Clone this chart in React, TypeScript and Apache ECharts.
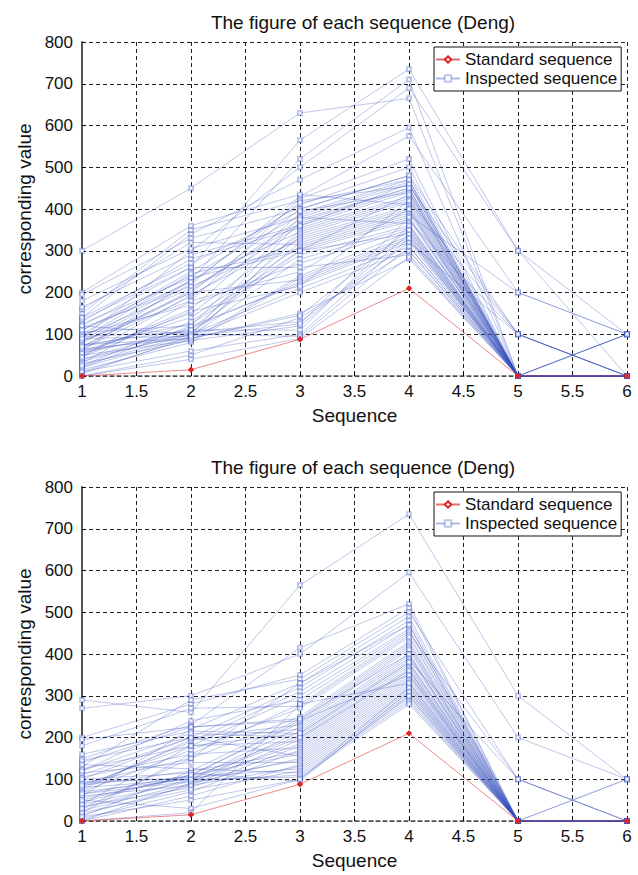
import React, { useEffect, useRef } from "react";
import * as echarts from "echarts";

const xValues = [1, 2, 3, 4, 5, 6];
const chartTitle = "The figure of each sequence (Deng)";
const xName = "Sequence";
const yName = "corresponding value";
const legendNames = ["Standard sequence", "Inspected sequence"];

const standardTop = [0, 15, 88, 210, 0, 0];
const standardBottom = [0, 15, 88, 210, 0, 0];

const inspectedTop = [
  [300, 450, 630, 665, 0, 0],
  [120, 260, 565, 735, 300, 0],
  [60, 230, 520, 710, 0, 0],
  [90, 300, 500, 690, 300, 100],
  [140, 340, 470, 595, 0, 0],
  [80, 220, 430, 575, 200, 100],
  [30, 180, 425, 520, 0, 0],
  [100, 250, 410, 500, 0, 0],
  [70, 200, 400, 480, 100, 0],
  [50, 160, 390, 470, 0, 0],
  [110, 240, 385, 465, 0, 100],
  [20, 120, 380, 460, 0, 0],
  [150, 350, 420, 455, 100, 0],
  [40, 100, 370, 450, 0, 0],
  [95, 210, 365, 445, 0, 0],
  [65, 190, 360, 440, 0, 100],
  [130, 280, 355, 430, 0, 0],
  [10, 90, 350, 425, 0, 0],
  [85, 230, 345, 420, 100, 0],
  [55, 150, 340, 415, 0, 0],
  [200, 360, 435, 410, 0, 0],
  [75, 110, 335, 405, 0, 0],
  [45, 195, 330, 400, 0, 100],
  [115, 215, 325, 395, 0, 0],
  [25, 100, 320, 390, 0, 0],
  [160, 320, 315, 385, 200, 100],
  [60, 140, 310, 380, 0, 0],
  [90, 245, 305, 375, 0, 0],
  [35, 105, 300, 370, 100, 0],
  [180, 305, 380, 365, 0, 0],
  [70, 125, 290, 360, 0, 0],
  [5, 95, 280, 355, 0, 0],
  [100, 170, 270, 350, 0, 100],
  [50, 85, 240, 345, 0, 0],
  [125, 235, 300, 340, 0, 0],
  [15, 80, 235, 335, 0, 0],
  [80, 200, 230, 330, 0, 0],
  [40, 115, 225, 325, 0, 0],
  [105, 120, 220, 320, 100, 0],
  [60, 100, 210, 310, 0, 0],
  [20, 95, 200, 300, 0, 0],
  [135, 260, 260, 290, 0, 0],
  [75, 90, 150, 280, 0, 0],
  [0, 50, 140, 300, 0, 0],
  [95, 105, 130, 320, 0, 0],
  [30, 85, 120, 340, 0, 0],
  [55, 110, 110, 360, 0, 0],
  [10, 60, 100, 330, 0, 0],
  [120, 100, 95, 310, 0, 0],
  [65, 90, 145, 350, 0, 0],
  [85, 180, 250, 400, 0, 0],
  [45, 155, 215, 420, 0, 0],
  [195, 330, 400, 480, 0, 0],
  [165, 290, 360, 460, 0, 0],
  [140, 270, 395, 440, 0, 0],
  [25, 130, 300, 435, 0, 0],
  [110, 225, 415, 470, 0, 0],
  [70, 205, 375, 450, 0, 0],
  [0, 40, 90, 285, 0, 0],
  [90, 95, 125, 380, 0, 0],
];

const inspectedBottom = [
  [290, 260, 565, 735, 300, 100],
  [270, 300, 400, 595, 200, 100],
  [150, 230, 415, 520, 0, 0],
  [200, 280, 350, 510, 0, 0],
  [130, 290, 340, 500, 100, 0],
  [60, 220, 330, 490, 0, 0],
  [100, 200, 320, 480, 0, 0],
  [80, 190, 310, 470, 0, 100],
  [40, 180, 300, 460, 0, 0],
  [120, 240, 290, 455, 0, 0],
  [20, 160, 280, 450, 100, 0],
  [180, 270, 275, 445, 0, 0],
  [70, 170, 270, 440, 0, 0],
  [90, 150, 250, 430, 0, 0],
  [10, 120, 245, 425, 0, 0],
  [140, 225, 240, 420, 0, 0],
  [50, 110, 235, 415, 0, 0],
  [110, 200, 230, 410, 0, 100],
  [30, 100, 225, 400, 0, 0],
  [75, 195, 220, 395, 0, 0],
  [0, 90, 215, 390, 0, 0],
  [160, 215, 210, 385, 100, 0],
  [55, 105, 205, 380, 0, 0],
  [95, 100, 200, 375, 0, 0],
  [15, 85, 195, 370, 0, 0],
  [125, 180, 190, 365, 0, 0],
  [65, 95, 185, 360, 0, 0],
  [35, 80, 180, 355, 0, 0],
  [105, 160, 175, 350, 0, 0],
  [5, 70, 170, 345, 0, 0],
  [85, 120, 165, 340, 0, 0],
  [45, 110, 160, 335, 0, 0],
  [145, 200, 155, 330, 0, 0],
  [25, 90, 150, 325, 0, 0],
  [70, 100, 145, 320, 0, 0],
  [115, 140, 140, 315, 0, 0],
  [0, 60, 135, 310, 0, 0],
  [60, 85, 130, 305, 0, 0],
  [90, 105, 125, 300, 0, 0],
  [20, 75, 120, 295, 0, 0],
  [135, 125, 115, 290, 0, 0],
  [40, 95, 110, 285, 0, 0],
  [80, 100, 105, 280, 0, 0],
  [10, 50, 100, 300, 0, 0],
  [100, 115, 95, 310, 0, 0],
  [50, 30, 100, 320, 0, 0],
  [65, 110, 240, 350, 0, 0],
  [120, 210, 200, 360, 0, 0],
  [0, 20, 280, 330, 0, 0],
  [195, 225, 245, 400, 0, 0],
  [85, 180, 210, 380, 0, 0],
  [30, 150, 330, 470, 0, 0],
];

const FONT = "Liberation Sans, Arial, Helvetica, sans-serif";
const BLUE_LINE = "rgba(55,80,190,0.4)";
const BLUE_MARK = "rgba(55,80,190,0.32)";
const RED = "rgba(225,70,70,0.8)";

function buildSeries(std: number[], inspected: number[][], idx: number) {
  const list: any[] = [];
  inspected.forEach((row) => {
    list.push({
      type: "line",
      name: legendNames[1],
      xAxisIndex: idx,
      yAxisIndex: idx,
      data: row.map((v, i) => [xValues[i], v]),
      symbol: "emptyRect",
      symbolSize: 4,
      showSymbol: true,
      lineStyle: { width: 0.8, color: BLUE_LINE },
      itemStyle: { color: BLUE_MARK, borderWidth: 0.8 },
      emphasis: { disabled: true },
      silent: true,
      z: 2,
    });
  });
  list.push({
    type: "line",
    name: legendNames[0],
    xAxisIndex: idx,
    yAxisIndex: idx,
    data: std.map((v, i) => [xValues[i], v]),
    symbol: "emptyDiamond",
    symbolSize: 3.5,
    lineStyle: { width: 0.8, color: RED },
    itemStyle: { color: "#e02020", borderWidth: 1 },
    emphasis: { disabled: true },
    silent: true,
    z: 3,
  });
  return list;
}

const plotTops = [42, 487];
const plotHeight = 334;

export default function App() {
  const ref = useRef<HTMLDivElement>(null);
  useEffect(() => {
    if (!ref.current) return;
    const chart = echarts.init(ref.current, undefined, { renderer: "svg" });
    const xAxisBase = (gi: number) => ({
      type: "value",
      gridIndex: gi,
      min: 1,
      max: 6,
      interval: 0.5,
      name: xName,
      nameLocation: "middle",
      nameGap: 30,
      nameTextStyle: { fontFamily: FONT, fontSize: 19, color: "#111" },
      axisLine: { show: true, onZero: false, lineStyle: { color: "#555", width: 1.5, type: [4, 3] } },
      axisTick: { show: true, inside: true, length: 4, lineStyle: { color: "#000" } },
      axisLabel: { fontFamily: FONT, fontSize: 17, color: "#111", margin: 7 },
      splitLine: { show: true, lineStyle: { color: "#222", width: 1, type: [4, 3] } },
    });
    const yAxisBase = (gi: number) => ({
      type: "value",
      gridIndex: gi,
      min: 0,
      max: 800,
      interval: 100,
      name: yName,
      nameLocation: "middle",
      nameGap: 47,
      nameTextStyle: { fontFamily: FONT, fontSize: 19, color: "#111" },
      axisLine: { show: true, lineStyle: { color: "#555", width: 2 } },
      axisTick: { show: true, inside: true, length: 4, lineStyle: { color: "#000" } },
      axisLabel: { fontFamily: FONT, fontSize: 17, color: "#111", margin: 9 },
      splitLine: { show: true, lineStyle: { color: "#222", width: 1, type: [4, 3] } },
    });
    const legendBase = (top: number) => ({
      data: legendNames,
      orient: "vertical",
      left: 434,
      top: top,
      padding: [3, 4, 3, 1],
      itemGap: 0,
      itemWidth: 24,
      itemHeight: 8,
      backgroundColor: "#fff",
      borderColor: "#111",
      borderWidth: 1,
      textStyle: { fontFamily: FONT, fontSize: 17, color: "#111", lineHeight: 19 },
      selectedMode: false,
    });
    chart.setOption({
      animation: false,
      backgroundColor: "#fff",
      title: plotTops.map((t) => ({
        text: chartTitle,
        left: 358,
        textAlign: "center",
        top: t - 34,
        textStyle: { fontFamily: FONT, fontSize: 19, fontWeight: "normal", color: "#111" },
      })),
      legend: plotTops.map((t) => legendBase(t + 5)),
      grid: plotTops.map((t) => ({ left: 82, right: 11, top: t, height: plotHeight, show: false })),
      xAxis: [xAxisBase(0), xAxisBase(1)],
      yAxis: [yAxisBase(0), yAxisBase(1)],
      series: [...buildSeries(standardTop, inspectedTop, 0), ...buildSeries(standardBottom, inspectedBottom, 1)],
    });
    return () => chart.dispose();
  }, []);
  return (
    <div
      ref={ref}
      style={{ position: "fixed", left: 0, top: 0, width: 638, height: 875, background: "#fff" }}
    />
  );
}
